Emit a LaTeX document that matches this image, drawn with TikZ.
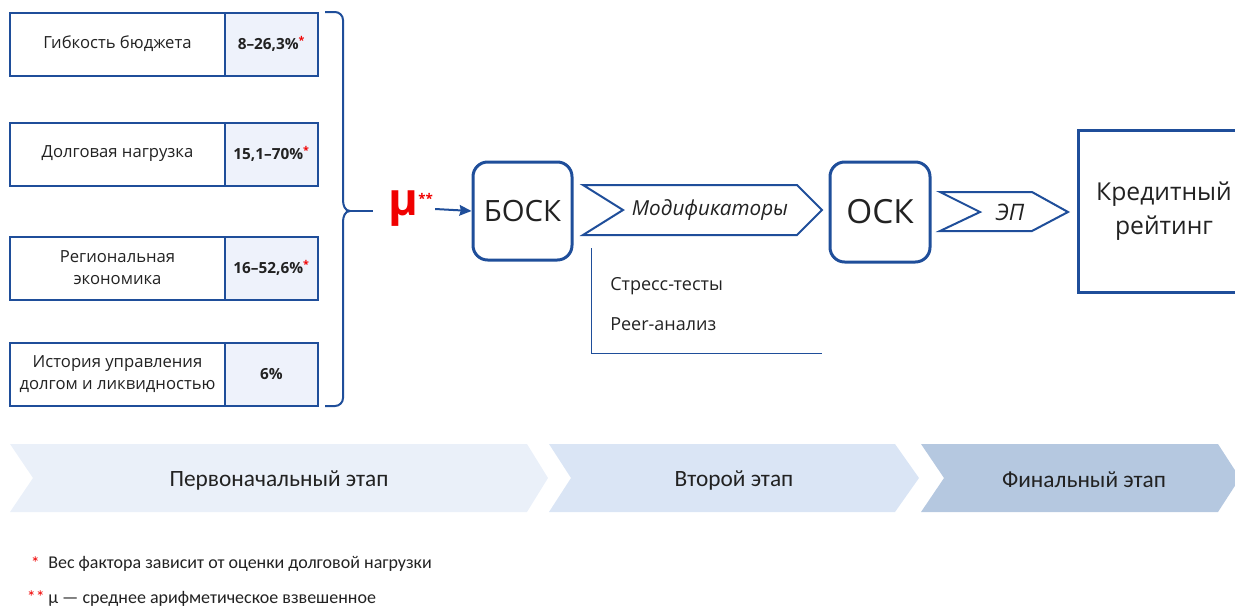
\documentclass[tikz,border=0pt]{standalone}
\usepackage{fontspec}
\setmainfont{Open Sans}
\newfontfamily\calfont{Carlito}
\usetikzlibrary{arrows.meta}

\definecolor{frameblue}{HTML}{1F4E9A}
\definecolor{cellblue}{HTML}{EEF2FB}
\definecolor{stageA}{HTML}{EAF0F9}
\definecolor{stageB}{HTML}{DAE5F5}
\definecolor{stageC}{HTML}{B5C8E0}
\definecolor{textgray}{HTML}{222222}
\definecolor{mured}{HTML}{F00000}

\newcommand{\redstar}[1]{\textsuperscript{\textcolor{mured}{#1}}}

\begin{document}
\begin{tikzpicture}[x=0.75pt, y=-0.75pt, font=\fontsize{12.5}{16.5}\selectfont, text=textgray]
	\tikzstyle{factorStyle}=[draw=frameblue, line width=1.5pt, fill=white, minimum width=161.25pt, minimum height=47.25pt, inner sep=0pt, align=center]
	\tikzstyle{weightStyle}=[factorStyle, fill=cellblue, minimum width=69.75pt, font=\fontsize{11.5}{14}\selectfont\bfseries]
	\tikzstyle{coreStyle}=[draw=frameblue, line width=2.25pt, rounded corners=11pt, minimum width=74.25pt, minimum height=73.5pt, font=\fontsize{22}{24}\selectfont]
	\tikzstyle{chevronStyle}=[draw=frameblue, line width=1.5pt, fill=white]
	\tikzstyle{stageStyle}=[font=\calfont\fontsize{17.5}{20}\selectfont]
	\tikzstyle{noteStyle}=[anchor=west, inner sep=0pt, font=\calfont\fontsize{13.5}{15}\selectfont]
	\tikzstyle{modStyle}=[anchor=west, inner sep=0pt, font=\fontsize{13.5}{16}\selectfont]
	\useasboundingbox (0,0) rectangle (1235,607);

	% factors and weights
	\node[factorStyle] (f1) at (117.5,44) {Гибкость бюджета};
	\node[weightStyle] (w1) at (271.5,44) {8–26,3\%\redstar{*}};
	\node[factorStyle] (f2) at (117.5,154) {Долговая нагрузка};
	\node[weightStyle] (w2) at (271.5,154) {15,1–70\%\redstar{*}};
	\node[factorStyle] (f3) at (117.5,268) {Региональная\\экономика};
	\node[weightStyle] (w3) at (271.5,268) {16–52,6\%\redstar{*}};
	\node[factorStyle] (f4) at (117.5,374.5) {История управления\\долгом и ликвидностью};
	\node[weightStyle] (w4) at (271.5,374.5) {6\%};

	% brace
	\draw[frameblue, line width=1.5pt] (325,12) -- (335,12) to[out=0, in=90] (343,20) -- (343,200)
		to[out=-90, in=180] (350,211) to[out=180, in=90] (343,222) -- (343,398)
		to[out=-90, in=0] (335,406) -- (325,406);
	\coordinate (braceTip) at (350,211);
	\coordinate (braceEnd) at (373,211);
	\draw[frameblue, line width=1.5pt] (braceTip) -- (braceEnd);

	% weighted mean
	\node[text=mured, font=\fontsize{34}{36}\selectfont\bfseries, inner sep=1pt] (mu) at (411,209) {μ\textsuperscript{\fontsize{10}{10}\selectfont **}};

	% scores
	\node[coreStyle] (bosk) at (522.5,211) {БОСК};
	\draw[-{Stealth[length=9pt, width=8pt, inset=1pt]}, frameblue, line width=1.5pt] (mu.east) -- (bosk.west);

	\draw[chevronStyle] (583,185) -- (797,185) -- (822,210) -- (797,235) -- (583,235) -- (623,210) -- cycle;
	\node[font=\fontsize{15.5}{17}\selectfont\itshape] (mods) at (710,210) {Модификаторы};
	\draw[frameblue, line width=0.75pt] (591,248) -- (591,353) -- (822,353);
	\node[modStyle] (stress) at (610,286) {Стресс-тесты};
	\node[modStyle] (peer) at (610,324) {Peer-анализ};

	\node[coreStyle, minimum width=75pt, minimum height=75pt, font=\fontsize{25}{27}\selectfont] (osk) at (880,212) {ОСК};

	\draw[chevronStyle] (940,192) -- (1032,192) -- (1068,212) -- (1032,231) -- (940,231) -- (980,212) -- cycle;
	\node[font=\fontsize{17}{19}\selectfont\itshape] (ep) at (1010,212) {ЭП};

	\node[draw=frameblue, line width=2.25pt, minimum width=129pt, minimum height=121.5pt, align=center, font=\fontsize{18.5}{25}\selectfont] (rating) at (1164,211) {Кредитный\\рейтинг};

	% stages
	\fill[stageA] (10,444) -- (527,444) -- (548,478) -- (527,512) -- (10,512) -- (33,478) -- cycle;
	\fill[stageB] (549,444) -- (895,444) -- (919,478) -- (895,512) -- (549,512) -- (571,478) -- cycle;
	\fill[stageC] (921,444) -- (1218,444) -- (1240,478) -- (1218,512) -- (921,512) -- (944,478) -- cycle;
	\node[stageStyle] (s1) at (279,480) {Первоначальный этап};
	\node[stageStyle] (s2) at (734,480) {Второй этап};
	\node[stageStyle] (s3) at (1084,480) {Финальный этап};

	% notes
	\node[noteStyle, text=mured, anchor=east] (n1mark) at (40,563) {*};
	\node[noteStyle] (n1) at (48,564) {Вес фактора зависит от оценки долговой нагрузки};
	\node[noteStyle, text=mured, anchor=east] (n2mark) at (45,597) {**};
	\node[noteStyle] (n2) at (48,599) {μ — среднее арифметическое взвешенное};
\end{tikzpicture}
\end{document}
